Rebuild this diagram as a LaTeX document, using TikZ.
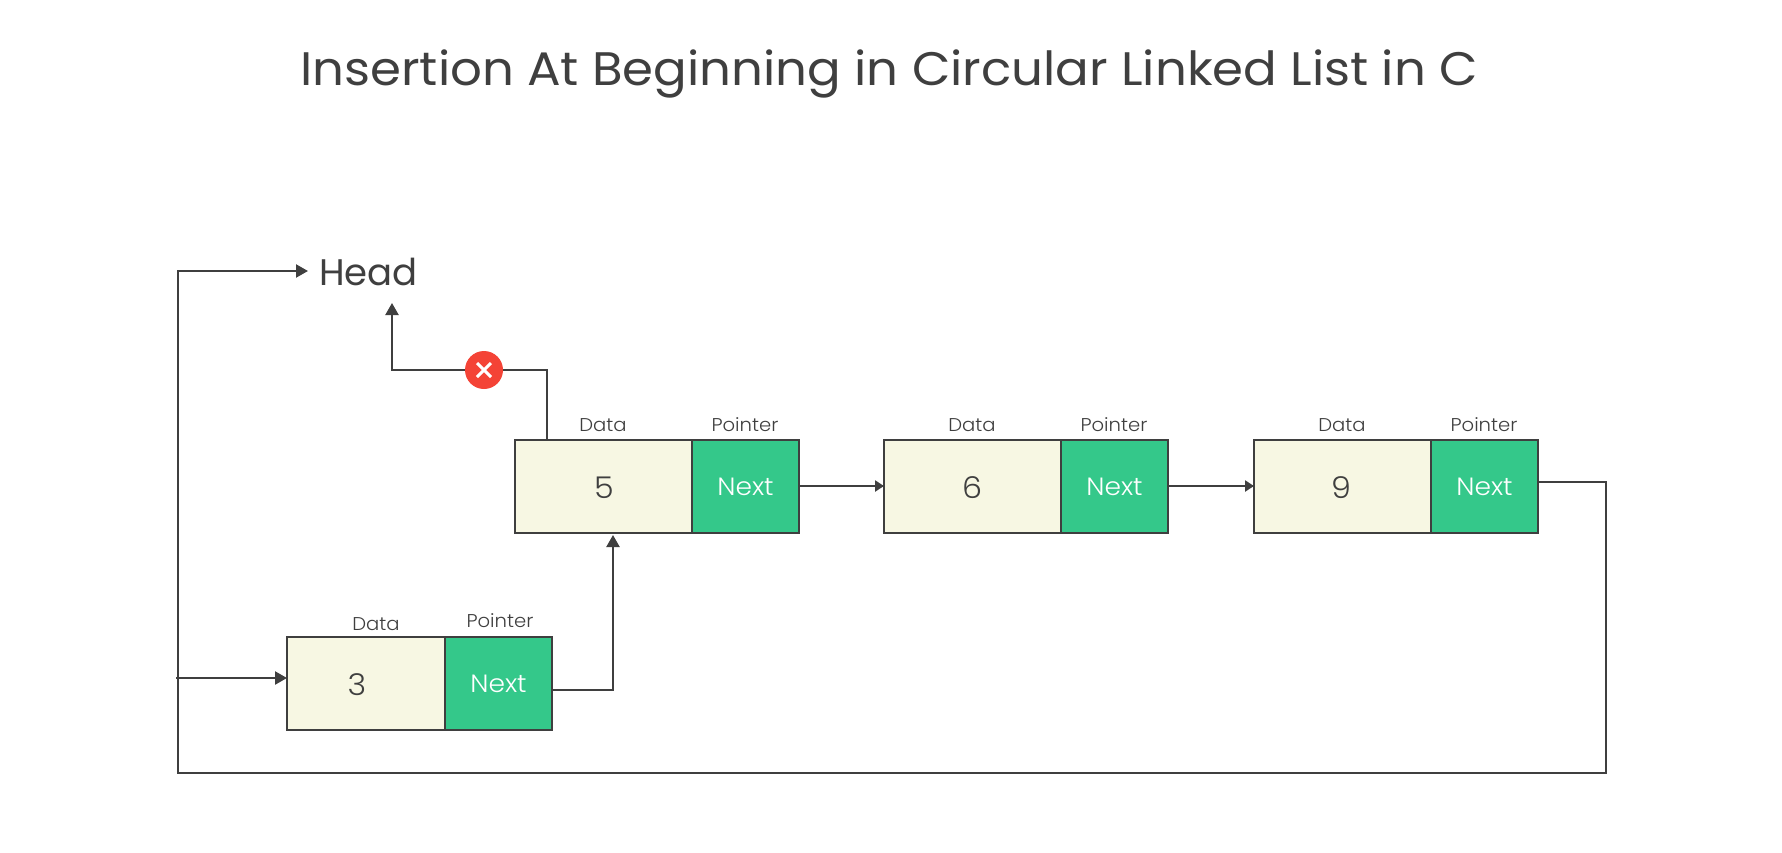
\documentclass[tikz,border=0pt]{standalone}
\usepackage{fontspec}
\setmainfont{Poppins Light}[FakeStretch=1.06]
\newfontfamily\headfont{Poppins}
\newfontfamily\titlefont{Poppins}[FakeStretch=1.06]
\usetikzlibrary{arrows.meta}
\definecolor{ink}{HTML}{3F3F3F}
\definecolor{cream}{HTML}{F7F7E3}
\definecolor{mint}{HTML}{34C88A}
\definecolor{alert}{HTML}{F44336}
\tikzset{
  cell/.style={draw=ink,line width=2.2pt,minimum height=93pt,inner sep=0pt,outer sep=0pt,anchor=north west,text=ink},
  datacell/.style={cell,fill=cream},
  nextcell/.style={cell,fill=mint,text=white,font=\fontsize{25}{25}\selectfont},
  digit/.style={text=ink,font=\fontsize{30}{30}\selectfont,inner sep=0pt,anchor=base},
  fieldcap/.style={text=ink,font=\fontsize{18.5}{18.5}\selectfont,inner sep=0pt,anchor=base},
  wire/.style={draw=ink,line width=2.2pt},
  bigtip/.style={-{Triangle[length=12pt,width=13pt]}},
  smalltip/.style={-{Triangle[length=9pt,width=11pt]}},
}
\begin{document}
\begin{tikzpicture}[x=1pt,y=-1pt]
\useasboundingbox (0,0) rectangle (1782,852);
\fill[white] (0,0) rectangle (1782,852);
\node[text=ink,font=\titlefont\fontsize{47}{47}\selectfont,inner sep=0pt,anchor=base] (title) at (889,85) {Insertion At Beginning in Circular Linked List in C};
\node[text=ink,font=\headfont\fontsize{37}{37}\selectfont,inner sep=0pt,anchor=base west] (head) at (319,285) {Head};

\node[datacell,minimum width=177pt] (d5) at (515,440) {};
\node[nextcell,minimum width=107pt] (n5) at (692,440) {Next};
\node[datacell,minimum width=177pt] (d6) at (884,440) {};
\node[nextcell,minimum width=107pt] (n6) at (1061,440) {Next};
\node[datacell,minimum width=177pt] (d9) at (1254,440) {};
\node[nextcell,minimum width=107pt] (n9) at (1431,440) {Next};
\node[datacell,minimum width=158pt] (d3) at (287,637) {};
\node[nextcell,minimum width=107pt] (n3) at (445,637) {Next};

\node[digit] (v5) at (604,498.5) {5};
\node[digit] (v6) at (972,498.5) {6};
\node[digit] (v9) at (1341,498.5) {9};
\node[digit] (v3) at (357,695) {3};

\node[fieldcap] (c1) at (603,431) {Data};
\node[fieldcap] (c2) at (745,431) {Pointer};
\node[fieldcap] (c3) at (972,431) {Data};
\node[fieldcap] (c4) at (1114,431) {Pointer};
\node[fieldcap] (c5) at (1342,431) {Data};
\node[fieldcap] (c6) at (1484,431) {Pointer};
\node[fieldcap] (c7) at (376,630) {Data};
\node[fieldcap] (c8) at (500,627) {Pointer};

% connectors between cells
\draw[wire,smalltip] ([yshift=0.5pt]n5.east) -- ([yshift=0.5pt]d6.west);
\draw[wire,smalltip] ([yshift=0.5pt]n6.east) -- ([yshift=0.5pt]d9.west);

% 3 -> 5
\coordinate (n3out) at (553,690);
\coordinate (d5in) at (613,535);
\draw[wire,bigtip] (n3out) -| (d5in);

% 9 -> round the back -> Head and node 3
\coordinate (n9out) at (1538,482);
\coordinate (backbr) at (1606,773);
\coordinate (backbl) at (178,773);
\coordinate (headin) at (308,271);
\draw[wire,line join=miter,bigtip] (n9out) -| (backbr) -- (backbl) |- (headin);
\coordinate (tap) at (176,678);
\coordinate (d3in) at (287,678);
\draw[wire,bigtip] (tap) -- (d3in);

% old head link, cancelled
\coordinate (oldout) at (547,440);
\coordinate (oldin) at (392,303);
\coordinate (oldmid) at (392,370);
\draw[wire,bigtip] (oldout) |- (oldmid) -- (oldin);
\node[circle,fill=alert,minimum size=38pt,inner sep=0pt] (bad) at (484,370) {};
\draw[white,line width=3pt] (bad.center) ++(-7,-7) -- ++(14,14) ++(-14,0) -- ++(14,-14);
\end{tikzpicture}
\end{document}
